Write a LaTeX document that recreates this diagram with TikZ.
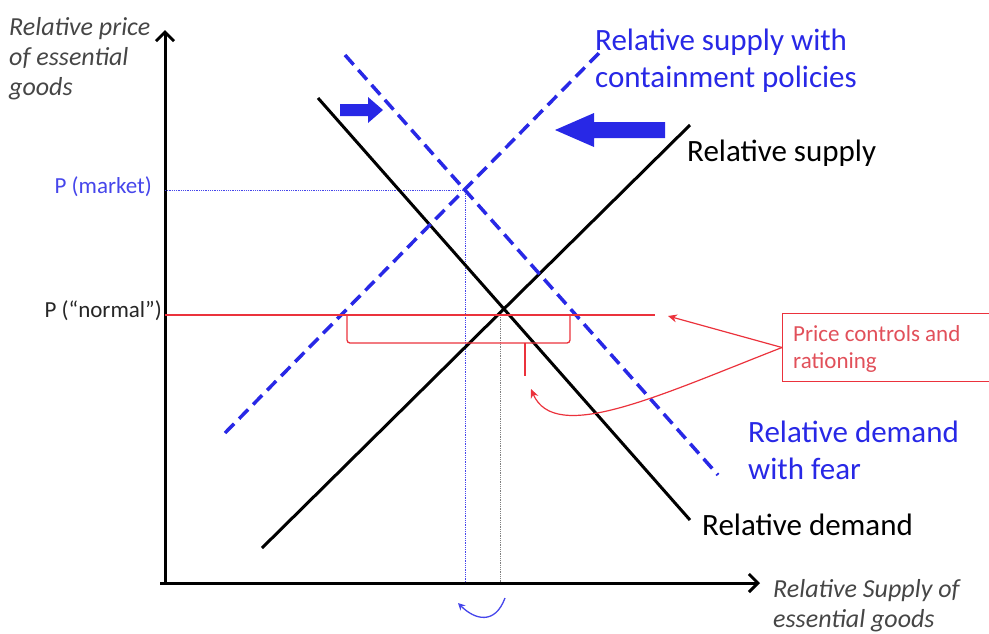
\documentclass[tikz,border=0pt]{standalone}
\usepackage{fontspec}
\setmainfont{Carlito}
\usetikzlibrary{arrows.meta}
\definecolor{myblue}{RGB}{40,40,230}
\definecolor{lblue}{RGB}{70,70,235}
\definecolor{myred}{RGB}{235,50,60}
\definecolor{txtred}{RGB}{225,80,90}
\definecolor{axgray}{RGB}{70,70,70}
\tikzset{
  curve/.style={line width=3pt, black},
  bdash/.style={line width=3.5pt, myblue, dash pattern=on 13pt off 7pt},
  guide/.style={line width=0.8pt, densely dotted},
  axis/.style={line width=3pt, -{Straight Barb[length=9pt,width=18pt,line width=3pt]}},
  redline/.style={line width=1.3pt, myred},
  lbl/.style={font=\fontsize{31}{37}\selectfont, align=left, anchor=base west, inner sep=0pt},
  axlbl/.style={font=\fontsize{26}{30}\selectfont\itshape, text=axgray, align=left, anchor=base west, inner sep=0pt},
  plbl/.style={font=\fontsize{23}{26}\selectfont, anchor=base east, inner sep=0pt},
}
\begin{document}
\begin{tikzpicture}[x=1pt,y=-1pt]
\useasboundingbox (0,0) rectangle (989,633);
% axes
\coordinate (O) at (165,583);
\coordinate (ytop) at (165,30);
\coordinate (xend) at (760,583);
\draw[axis] (O) -- (ytop);
\draw[axis] (160,583) -- (xend);
% guides
\coordinate (pm) at (165,190);
\coordinate (qm) at (465,190);
\coordinate (qmb) at (465,583);
\coordinate (eq) at (500,315);
\coordinate (eqb) at (500,583);
\draw[guide, lblue] (pm) -- (qm) -- (qmb);
\draw[guide, gray] (eq) -- (eqb);
% curves
\coordinate (d1) at (318,98); \coordinate (d2) at (690,520);
\coordinate (s1) at (262,548); \coordinate (s2) at (690,125);
\coordinate (f1) at (345,55); \coordinate (f2) at (718,475);
\coordinate (c1) at (225,433); \coordinate (c2) at (600,52);
\draw[curve] (d1) -- (d2);
\draw[curve] (s1) -- (s2);
\draw[bdash] (f1) -- (f2);
\draw[bdash] (c1) -- (c2);
% red price line
\coordinate (pn) at (165,315);
\coordinate (pr) at (655,315);
\draw[line width=2.2pt, myred] (pn) -- (pr);
% bracket
\draw[redline, rounded corners=3pt] (347,316) -- (347,343) -- (570,343) -- (570,316);
\draw[redline] (525,343) -- (525,376);
% blue block arrows
\fill[myblue] (340,104) -- (368,104) -- (368,97) -- (383,110) -- (368,123) -- (368,116) -- (340,116) -- cycle;
\fill[myblue] (665,122) -- (594,122) -- (594,113) -- (555,130) -- (594,147) -- (594,138) -- (665,138) -- cycle;
% small blue curved arrow
\coordinate (ba1) at (505,598);
\coordinate (ba2) at (458,603);
\draw[line width=1.3pt, lblue, -{Stealth[length=7pt,width=7pt]}] (ba1) .. controls (495,625) and (475,620) .. (ba2);
% labels (base = last line baseline)
\node[lbl, text=myblue] (lcp) at (595,87) {Relative supply with\\containment policies};
\node[lbl] (lrs) at (687,161) {Relative supply};
\node[lbl, text=myblue] (lrdf) at (748,479) {Relative demand\\with fear};
\node[lbl] (lrd) at (702,535) {Relative demand};
\node[axlbl] (ly) at (9,95) {Relative price\\of essential\\goods};
\node[axlbl] (lx) at (773,627) {Relative Supply of\\essential goods};
\node[plbl, text=lblue] (lpm) at (152,193) {P (market)};
\node[plbl, text=black!85] (lpn) at (162,317) {P (``normal'')};
% red box
\node[draw=myred, line width=1pt, minimum width=215pt, minimum height=68pt, anchor=north west, inner sep=0pt] (box) at (782,313) {};
\node[text=txtred, font=\fontsize{23}{27}\selectfont, align=left, anchor=base west, inner sep=0pt] (boxtxt) at (793,368) {Price controls and\\rationing};
\coordinate (tipA) at (668,316);
\coordinate (tipB) at (531,389);
\draw[line width=1.2pt, myred, -{Stealth[length=9pt,width=8pt]}] (box.west) -- (tipA);
\draw[line width=1.2pt, myred, -{Stealth[length=9pt,width=8pt]}] (box.west) .. controls (660,395) and (555,445) .. (tipB);
\end{tikzpicture}
\end{document}
